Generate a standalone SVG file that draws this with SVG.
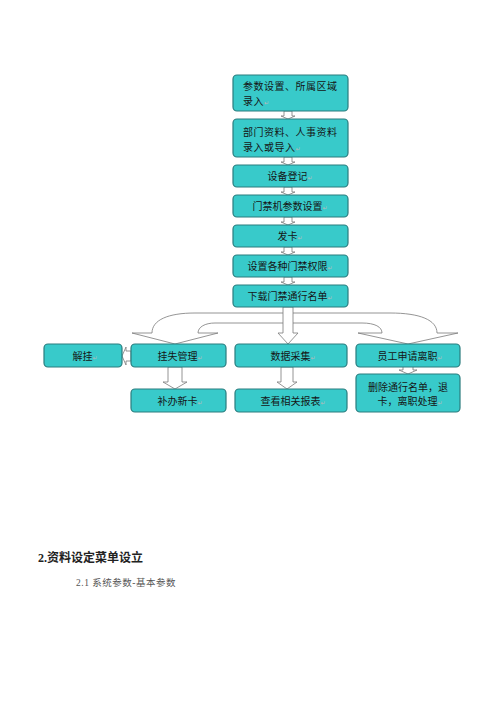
<svg xmlns="http://www.w3.org/2000/svg" width="500" height="707" viewBox="0 0 500 707">
<style>
.box{fill:#38caca;stroke:#2a7c7e;stroke-width:1.2}
.t{font-family:"Noto Sans CJK SC","Noto Sans",sans-serif;font-size:10px;fill:#151515}
.w{letter-spacing:0.5px}
.c{text-anchor:middle}
.arr{fill:#ffffff;stroke:#7a7a7a;stroke-width:0.8;stroke-linejoin:miter}
.rm{font-family:"DejaVu Sans",sans-serif;font-size:6px;fill:#b8b8b8;letter-spacing:0}
.h1{font-family:"Liberation Serif","Noto Sans CJK SC",serif;font-size:12px;font-weight:bold;fill:#222}
.h2{font-family:"Liberation Serif","Noto Sans CJK SC",serif;font-size:9.5px;fill:#555;letter-spacing:0.5px}
</style>
<rect width="500" height="707" fill="#ffffff"/>
<g id="connectors">
<path class="arr" d="M284,111 L292,111 L292,116 L295,116 L288,119 L281,116 L284,116 Z"/>
<path class="arr" d="M284,157 L292,157 L292,162 L295,162 L288,165 L281,162 L284,162 Z"/>
<path class="arr" d="M284,187 L292,187 L292,192 L295,192 L288,195 L281,192 L284,192 Z"/>
<path class="arr" d="M284,217 L292,217 L292,222 L295,222 L288,225 L281,222 L284,222 Z"/>
<path class="arr" d="M284,247 L292,247 L292,252 L295,252 L288,255 L281,252 L284,252 Z"/>
<path class="arr" d="M284,277 L292,277 L292,282 L295,282 L288,285 L281,282 L284,282 Z"/>
<path class="arr" d="M288,313 L195,313 C168,313 152,320 152,333 L132,333 L175,344 L218,333 L198,333 C198,327 205,323 215,323 L288,323 Z"/>
<path class="arr" d="M288,313 L390,313 C420,313 437,320 437,333 L458,333 L408,344 L358,333 L382,333 C382,327 375,323 362,323 L288,323 Z"/>
<path class="arr" d="M283,307 L293,307 L293,333 L298,333 L288,344 L278,333 L283,333 Z"/>
<path class="arr" d="M168,367 L182,367 L182,382 L187,382 L175,389 L163,382 L168,382 Z"/>
<path class="arr" d="M281,367 L293,367 L293,382 L297,382 L287,389 L277,382 L281,382 Z"/>
<path class="arr" d="M403,366 L413,366 L413,370 L417,370 L408,374 L399,370 L403,370 Z"/>
<path class="arr" d="M131,351 L126,351 L126,347 L122,356 L126,365 L126,361 L131,361 Z"/>
</g>
<g id="n1"><rect class="box" x="233" y="75" width="115" height="36" rx="4"/><text class="t w" x="243" y="90">参数设置、所属区域</text><text class="t w" x="243" y="105">录入<tspan class="rm">↵</tspan></text></g>
<g id="n2"><rect class="box" x="233" y="119" width="115" height="38" rx="4"/><text class="t w" x="243" y="136">部门资料、人事资料</text><text class="t w" x="243" y="151">录入或导入<tspan class="rm">↵</tspan></text></g>
<g id="n3"><rect class="box" x="233" y="165" width="115" height="22" rx="4"/><text class="t c" x="290" y="180">设备登记<tspan class="rm">↵</tspan></text></g>
<g id="n4"><rect class="box" x="233" y="195" width="115" height="22" rx="4"/><text class="t c" x="290" y="210">门禁机参数设置<tspan class="rm">↵</tspan></text></g>
<g id="n5"><rect class="box" x="233" y="225" width="115" height="22" rx="4"/><text class="t c" x="290" y="240">发卡<tspan class="rm">↵</tspan></text></g>
<g id="n6"><rect class="box" x="233" y="255" width="115" height="22" rx="4"/><text class="t c" x="290" y="270">设置各种门禁权限<tspan class="rm">↵</tspan></text></g>
<g id="n7"><rect class="box" x="233" y="285" width="115" height="22" rx="4"/><text class="t c" x="290" y="300">下载门禁通行名单<tspan class="rm">↵</tspan></text></g>
<g id="n8"><rect class="box" x="44" y="344" width="78" height="23" rx="4"/><text class="t c" x="85" y="360">解挂<tspan class="rm">↵</tspan></text></g>
<g id="n9"><rect class="box" x="131" y="344" width="95" height="23" rx="4"/><text class="t c" x="180" y="360">挂失管理<tspan class="rm">↵</tspan></text></g>
<g id="n10"><rect class="box" x="235" y="344" width="112" height="23" rx="4"/><text class="t c" x="293" y="360">数据采集<tspan class="rm">↵</tspan></text></g>
<g id="n11"><rect class="box" x="356" y="344" width="104" height="23" rx="4"/><text class="t c" x="410" y="360">员工申请离职<tspan class="rm">↵</tspan></text></g>
<g id="n12"><rect class="box" x="131" y="389" width="95" height="23" rx="4"/><text class="t c" x="180" y="405">补办新卡<tspan class="rm">↵</tspan></text></g>
<g id="n13"><rect class="box" x="235" y="389" width="112" height="23" rx="4"/><text class="t c" x="293" y="405">查看相关报表<tspan class="rm">↵</tspan></text></g>
<g id="n14"><rect class="box" x="356" y="374" width="104" height="38" rx="4"/><text class="t c" x="408" y="391">删除通行名单，退</text><text class="t c" x="410" y="405">卡，离职处理<tspan class="rm">↵</tspan></text></g>
<text class="h1" x="38" y="562">2.资料设定菜单设立</text>
<text class="h2" x="76" y="586">2.1 系统参数-基本参数</text>
</svg>
